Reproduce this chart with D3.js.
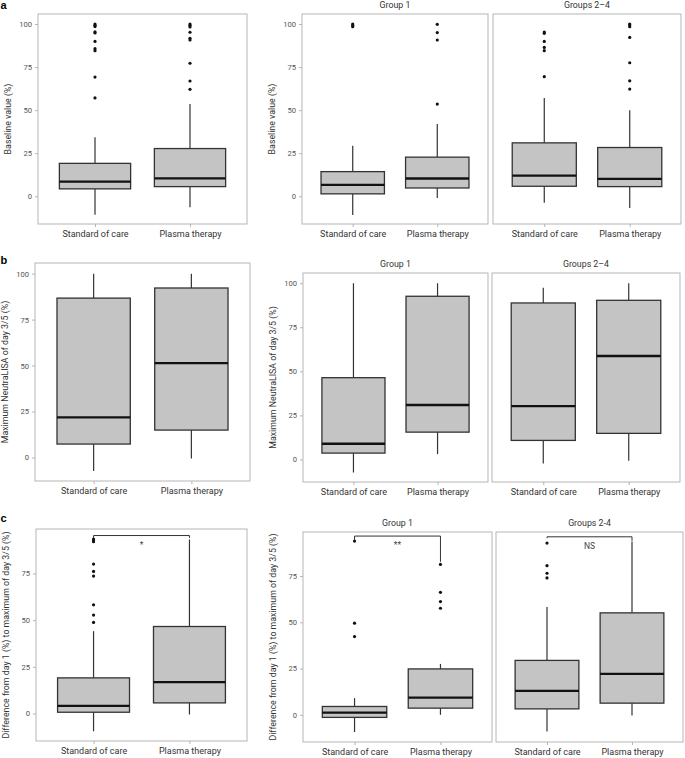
<!DOCTYPE html>
<html>
<head>
<meta charset="utf-8">
<script src="https://cdn.jsdelivr.net/npm/d3@7"></script>
<style>
  html, body { margin: 0; padding: 0; background: #fff; }
  svg { display: block; font-family: Roboto, "Noto Sans", sans-serif; }
</style>
</head>
<body>
<svg id="chart" width="685" height="758"></svg>
<script>
// ---------------- DATA ----------------
const categories = ["Standard of care", "Plasma therapy"];
const rowLetters = ["a", "b", "c"];
const titlesA = ["", "Group 1", "Groups 2–4"];
const titlesB = ["", "Group 1", "Groups 2–4"];
const titlesC = ["", "Group 1", "Groups 2-4"];
const yLabelA = "Baseline value (%)";
const yLabelB = "Maximum NeutraLISA of day 3/5 (%)";
const yLabelC = "Difference from day 1 (%) to maximum of day 3/5 (%)";
const ticksAB = [0, 25, 50, 75, 100];
const ticksC = [0, 25, 50, 75];

// box stats per category: [lower whisker, Q1, median, Q3, upper whisker]
const a1Stats = [[-10.8, 4.3, 8.5, 19.1, 34.2], [-6.4, 5.6, 10.4, 27.7, 53.6]];
const a1Outliers = [[100, 99.2, 98.5, 95.4, 94.8, 89.9, 85.7, 84.5, 69.2, 57.1],
                    [100, 99.2, 98.3, 95.2, 91.7, 90.7, 77.2, 66.9, 62.1]];
const a2Stats = [[-10.9, 1.4, 6.6, 14.3, 29.3], [-1.0, 4.8, 10.3, 22.7, 42.0]];
const a2Outliers = [[100, 99.2, 98.4], [99.8, 95.0, 90.7, 53.5]];
const a3Stats = [[-3.7, 5.8, 12.0, 31.0, 57.0], [-6.8, 5.6, 10.1, 28.3, 50.0]];
const a3Outliers = [[95.3, 94.6, 89.9, 86.4, 84.5, 69.4],
                    [100, 99.4, 98.4, 92.2, 77.5, 67.0, 62.2]];

const b1Stats = [[-7.3, 7.3, 21.8, 86.7, 100], [-0.5, 14.9, 51.3, 92.2, 100]];
const b2Stats = [[-7.4, 3.6, 8.9, 46.4, 100], [3.0, 15.5, 30.9, 92.6, 100]];
const b3Stats = [[-2.3, 10.8, 30.3, 88.8, 97.5], [-0.8, 14.8, 58.7, 90.3, 100]];

const c1Stats = [[-9.5, 0.7, 4.1, 19.1, 44.1], [-0.5, 5.7, 16.8, 46.6, 93.2]];
const c1Outliers = [[93.4, 92.9, 92.0, 80.0, 76.1, 73.6, 58.2, 52.7, 48.8], []];
const c2Stats = [[-9.3, -1.4, 1.2, 4.5, 9.0], [0.0, 3.6, 9.3, 24.8, 27.5]];
const c2Outliers = [[93.9, 49.5, 42.3], [81.3, 66.2, 61.2, 57.6]];
const c3Stats = [[-9.0, 3.2, 12.9, 29.4, 58.3], [-0.4, 6.3, 22.1, 55.1, 93.7]];
const c3Outliers = [[92.8, 80.6, 76.5, 74.0], []];

// significance brackets: bar level, tip ends [SOC, PT], label
const sigLevels = [95.3, 96.6, 96.2];
const sigTips = [[94.0, 94.0], [94.4, 82.7], [95.5, 94.0]];
const sigLabels = ["*", "**", "NS"];

// ---------------- LAYOUT ----------------
const domA = [-16.1, 105.8], domB = [-12.8, 105.8], domC = [-14.7, 98.8];
const panels = [
  {row: 0, col: 0, r: [38, 14, 247, 224],  dom: domA, stats: a1Stats, out: a1Outliers, title: titlesA[0], ylab: yLabelA, ticks: ticksAB, axis: true},
  {row: 0, col: 1, r: [302, 14, 488, 224], dom: domA, stats: a2Stats, out: a2Outliers, title: titlesA[1], ylab: yLabelA, ticks: ticksAB, axis: true},
  {row: 0, col: 2, r: [493, 14, 681, 224], dom: domA, stats: a3Stats, out: a3Outliers, title: titlesA[2], ticks: ticksAB, axis: false},
  {row: 1, col: 0, r: [35, 263, 250, 481], dom: domB, stats: b1Stats, out: [[], []], title: titlesB[0], ylab: yLabelB, ticks: ticksAB, axis: true},
  {row: 1, col: 1, r: [303, 273, 488, 482], dom: domB, stats: b2Stats, out: [[], []], title: titlesB[1], ylab: yLabelB, ticks: ticksAB, axis: true},
  {row: 1, col: 2, r: [492, 273, 680, 482], dom: domB, stats: b3Stats, out: [[], []], title: titlesB[2], ticks: ticksAB, axis: false},
  {row: 2, col: 0, r: [36, 529, 247, 741],  dom: domC, stats: c1Stats, out: c1Outliers, title: titlesC[0], ylab: yLabelC, ticks: ticksC, axis: true, sig: 0},
  {row: 2, col: 1, r: [303, 532, 492, 742], dom: domC, stats: c2Stats, out: c2Outliers, title: titlesC[1], ylab: yLabelC, ticks: ticksC, axis: true, sig: 1},
  {row: 2, col: 2, r: [496, 532, 683, 742], dom: domC, stats: c3Stats, out: c3Outliers, title: titlesC[2], ticks: ticksC, axis: false, sig: 2}
];
const letterY = [9, 264, 522];

const svg = d3.select("#chart");
const frameColor = "#b5b5b5";
const boxFill = "#c4c4c4";
const darkLine = "#333";

rowLetters.forEach((l, i) => {
  svg.append("text").attr("x", 0.5).attr("y", letterY[i])
    .attr("font-family", "'Liberation Sans', Arial, sans-serif")
    .attr("font-weight", "bold").attr("font-size", 11).attr("fill", "#000").text(l);
});

panels.forEach(p => {
  const [L, T, R, B] = p.r;
  const g = svg.append("g");
  const y = d3.scaleLinear().domain(p.dom).range([B, T]);
  const x = d3.scalePoint().domain(categories).range([L, R]).padding(0.6);
  const bw = x.step() * 0.75;

  // frame
  g.append("rect").attr("x", L).attr("y", T).attr("width", R - L).attr("height", B - T)
    .attr("fill", "none").attr("stroke", frameColor).attr("stroke-width", 1);

  // x axis (ticks + labels)
  const xa = d3.axisBottom(x).tickSize(3).tickPadding(4);
  const xg = g.append("g").attr("transform", `translate(0,${B})`).call(xa);
  xg.select(".domain").remove();
  xg.selectAll(".tick line").attr("stroke", frameColor);
  xg.selectAll(".tick text").attr("font-size", 9).attr("fill", "#333")
    .attr("font-family", "Roboto, sans-serif");

  // y axis
  if (p.axis) {
    const ya = d3.axisLeft(y).tickValues(p.ticks).tickSize(3).tickPadding(3);
    const yg = g.append("g").attr("transform", `translate(${L},0)`).call(ya);
    yg.select(".domain").remove();
    yg.selectAll(".tick line").attr("stroke", frameColor);
    yg.selectAll(".tick text").attr("font-size", 7.6).attr("fill", "#555")
      .attr("font-family", "Roboto, sans-serif");
    g.append("text")
      .attr("transform", `translate(${L - 30},${(T + B) / 2}) rotate(-90)`)
      .attr("text-anchor", "middle").attr("dominant-baseline", "central")
      .attr("font-size", 8.8).attr("fill", "#333").text(p.ylab);
  }

  // title
  if (p.title) {
    g.append("text").attr("x", (L + R) / 2).attr("y", T - 6)
      .attr("text-anchor", "middle").attr("font-size", 8.8).attr("fill", "#333").text(p.title);
  }

  // boxes
  categories.forEach((c, i) => {
    const s = p.stats[i];
    const cx = x(c);
    g.append("line").attr("x1", cx).attr("x2", cx).attr("y1", y(s[3])).attr("y2", y(s[4]))
      .attr("stroke", darkLine).attr("stroke-width", 1.2);
    g.append("line").attr("x1", cx).attr("x2", cx).attr("y1", y(s[1])).attr("y2", y(s[0]))
      .attr("stroke", darkLine).attr("stroke-width", 1.2);
    g.append("rect").attr("x", cx - bw / 2).attr("width", bw)
      .attr("y", y(s[3])).attr("height", y(s[1]) - y(s[3]))
      .attr("fill", boxFill).attr("stroke", darkLine).attr("stroke-width", 1.3);
    g.append("line").attr("x1", cx - bw / 2).attr("x2", cx + bw / 2)
      .attr("y1", y(s[2])).attr("y2", y(s[2]))
      .attr("stroke", "#111").attr("stroke-width", 2.3);
    p.out[i].forEach(v => {
      g.append("circle").attr("cx", cx).attr("cy", y(v)).attr("r", 1.6).attr("fill", "#111");
    });
  });

  // significance bracket
  if (p.sig !== undefined) {
    const k = p.sig;
    const x1 = x(categories[0]), x2 = x(categories[1]);
    const yl = y(sigLevels[k]);
    g.append("path")
      .attr("d", `M${x1},${y(sigTips[k][0])}V${yl}H${x2}V${y(sigTips[k][1])}`)
      .attr("fill", "none").attr("stroke", darkLine).attr("stroke-width", 1);
    g.append("text").attr("x", (x1 + x2) / 2).attr("y", yl + 12)
      .attr("text-anchor", "middle").attr("font-size", 8.5).attr("fill", "#444").text(sigLabels[k]);
  }
});
</script>
</body>
</html>
